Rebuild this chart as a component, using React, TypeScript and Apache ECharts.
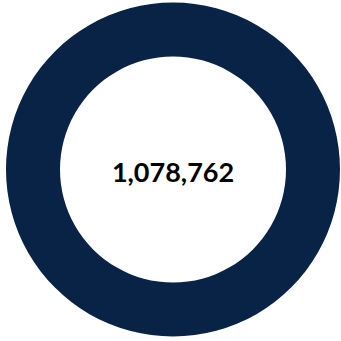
import React, { useEffect, useRef } from "react";
import * as echarts from "echarts";

const categories = ["Total"];
const values = [1078762];

export default function App() {
  const ref = useRef<HTMLDivElement>(null);
  useEffect(() => {
    if (!ref.current) return;
    const chart = echarts.init(ref.current, undefined, { renderer: "svg" });
    chart.setOption({
      animation: false,
      backgroundColor: "#ffffff",
      series: [
        {
          type: "pie",
          center: [173, 169.5],
          radius: [113, 167],
          silent: true,
          itemStyle: { color: "#082346" },
          labelLine: { show: false },
          label: {
            show: true,
            position: "center",
            formatter: (p: any) => Number(p.value).toLocaleString("en-US"),
            fontFamily: "Lato",
            fontWeight: "bold",
            fontSize: 27,
            color: "#000000",
            offset: [0, 2],
          },
          data: categories.map((c, i) => ({ name: c, value: values[i] })),
        },
      ],
    });
    return () => chart.dispose();
  }, []);
  return (
    <div
      ref={ref}
      style={{ position: "fixed", left: 0, top: 0, width: 341, height: 341 }}
    />
  );
}
